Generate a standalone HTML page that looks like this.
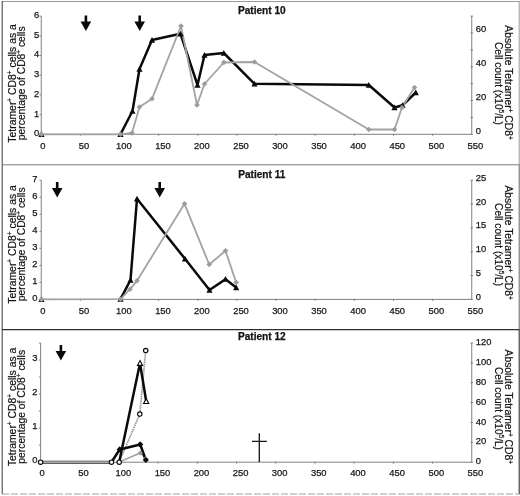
<!DOCTYPE html>
<html lang="en"><head><meta charset="utf-8"><title>Tetramer+ CD8+ cells – Patients 10, 11, 12</title>
<style>html,body{margin:0;padding:0;background:#fff}svg{display:block}text{font-family:'Liberation Sans', Arial, sans-serif;fill:#151515}.t{font-size:9.4px;stroke:#151515;stroke-width:.25px}.r{stroke:#151515;stroke-width:.2px}</style>
</head><body>
<svg width="520" height="496" viewBox="0 0 520 496">
<rect width="520" height="496" fill="#fff"/>
<g fill="none">
<path d="M2 1.5H519.5" stroke="#9a9a9a" stroke-width="1"/>
<path d="M2.2 1V494.3" stroke="#4a4a4a" stroke-width="1.1"/>
<path d="M519.2 1V164.8" stroke="#9a9a9a" stroke-width="1"/>
<path d="M519.2 164.8V329.6" stroke="#666" stroke-width="1"/>
<path d="M519.2 329.6V494.3" stroke="#333" stroke-width="1.1"/>
<path d="M2 164.8H519.5" stroke="#7c7c7c" stroke-width="1"/>
<path d="M2 329.7H519.5" stroke="#2e2e2e" stroke-width="1.3"/>
<path d="M2 494H519.5" stroke="#a4a4a4" stroke-width="1" stroke-dasharray="7 2"/>
</g>
<g>
<text x="261.8" y="14.399999999999999" font-size="10.1" font-weight="bold" text-anchor="middle" fill="#111" stroke="#111" stroke-width=".25">Patient 10</text>
<path d="M41.25 16.1V134.3H471.75V16.1" fill="none" stroke="#7a7a7a" stroke-width="0.95"/>
<text class="t" x="39.2" y="136.20" text-anchor="end">0</text>
<text class="t" x="39.2" y="116.50" text-anchor="end">1</text>
<text class="t" x="39.2" y="96.80" text-anchor="end">2</text>
<text class="t" x="39.2" y="77.10" text-anchor="end">3</text>
<text class="t" x="39.2" y="57.40" text-anchor="end">4</text>
<text class="t" x="39.2" y="37.70" text-anchor="end">5</text>
<text class="t" x="39.2" y="18.00" text-anchor="end">6</text>
<text class="t" x="475.8" y="133.50">0</text>
<text class="t" x="475.8" y="99.73">20</text>
<text class="t" x="475.8" y="65.96">40</text>
<text class="t" x="475.8" y="32.19">60</text>
<text class="t" x="42.75" y="148.50" text-anchor="middle">0</text>
<text class="t" x="83.99" y="148.50" text-anchor="middle">50</text>
<text class="t" x="123.82" y="148.50" text-anchor="middle">100</text>
<text class="t" x="162.96" y="148.50" text-anchor="middle">150</text>
<text class="t" x="201.90" y="148.50" text-anchor="middle">200</text>
<text class="t" x="241.03" y="148.50" text-anchor="middle">250</text>
<text class="t" x="279.97" y="148.50" text-anchor="middle">300</text>
<text class="t" x="319.00" y="148.50" text-anchor="middle">350</text>
<text class="t" x="358.14" y="148.50" text-anchor="middle">400</text>
<text class="t" x="397.28" y="148.50" text-anchor="middle">450</text>
<text class="t" x="436.41" y="148.50" text-anchor="middle">500</text>
<text class="t" x="475.45" y="148.50" text-anchor="middle">550</text>
<path d="M41.25 134.30h-1.8M41.25 114.60h-1.8M41.25 94.90h-1.8M41.25 75.20h-1.8M41.25 55.50h-1.8M41.25 35.80h-1.8M41.25 16.10h-1.8M470.45 134.30h2.6M470.45 117.41h2.6M470.45 100.53h2.6M470.45 83.64h2.6M470.45 66.76h2.6M470.45 49.87h2.6M470.45 32.99h2.6M470.45 16.10h2.6M80.39 133.80v2M119.52 133.80v2M158.66 133.80v2M197.80 133.80v2M236.93 133.80v2M276.07 133.80v2M315.20 133.80v2M354.34 133.80v2M393.48 133.80v2M432.61 133.80v2" fill="none" stroke="#7a7a7a" stroke-width="0.9"/>
<text transform="translate(15.8 83.4) rotate(-90)" class="r" font-size="10.4" text-anchor="middle">Tetramer<tspan dy="-3.6" font-size="6.5">+</tspan><tspan dy="3.6">&#8203;</tspan> CD8<tspan dy="-3.6" font-size="6.5">+</tspan><tspan dy="3.6">&#8203;</tspan> cells as a</text>
<text transform="translate(24.8 83.3) rotate(-90)" class="r" font-size="10.3" text-anchor="middle">percentage of CD8<tspan dy="-3.6" font-size="6.5">+</tspan><tspan dy="3.6">&#8203;</tspan> cells</text>
<text transform="translate(504.5 82.5) rotate(90)" class="r" font-size="10.3" text-anchor="middle">Absolute Tetramer<tspan dy="-3.6" font-size="6.5">+</tspan><tspan dy="3.6">&#8203;</tspan> CD8<tspan dy="-3.6" font-size="6.5">+</tspan><tspan dy="3.6">&#8203;</tspan></text>
<text transform="translate(495 83.5) rotate(90)" class="r" font-size="10.15" text-anchor="middle">Cell count (x10<tspan dy="-3.6" font-size="6.5">5</tspan><tspan dy="3.6">&#8203;</tspan>/L)</text>
<path d="M87.2 15.5v6h4l-5.3 9.5l-5.3 -9.5h4v-6z" fill="#0a0a0a"/>
<path d="M141.0 15.5v6h4l-5.3 9.5l-5.3 -9.5h4v-6z" fill="#0a0a0a"/>
</g>
<g>
<text x="261.8" y="178.39999999999998" font-size="10.1" font-weight="bold" text-anchor="middle" fill="#111" stroke="#111" stroke-width=".25">Patient 11</text>
<path d="M41.25 180.2V299.4H471.75V180.2" fill="none" stroke="#7a7a7a" stroke-width="0.95"/>
<text class="t" x="37.5" y="300.80" text-anchor="end">0</text>
<text class="t" x="37.5" y="283.77" text-anchor="end">1</text>
<text class="t" x="37.5" y="266.74" text-anchor="end">2</text>
<text class="t" x="37.5" y="249.71" text-anchor="end">3</text>
<text class="t" x="37.5" y="232.69" text-anchor="end">4</text>
<text class="t" x="37.5" y="215.66" text-anchor="end">5</text>
<text class="t" x="37.5" y="198.63" text-anchor="end">6</text>
<text class="t" x="37.5" y="181.60" text-anchor="end">7</text>
<text class="t" x="475.8" y="300.00">0</text>
<text class="t" x="475.8" y="276.16">5</text>
<text class="t" x="475.8" y="252.32">10</text>
<text class="t" x="475.8" y="228.48">15</text>
<text class="t" x="475.8" y="204.64">20</text>
<text class="t" x="475.8" y="180.80">25</text>
<text class="t" x="42.75" y="313.60" text-anchor="middle">0</text>
<text class="t" x="83.99" y="313.60" text-anchor="middle">50</text>
<text class="t" x="123.82" y="313.60" text-anchor="middle">100</text>
<text class="t" x="162.96" y="313.60" text-anchor="middle">150</text>
<text class="t" x="201.90" y="313.60" text-anchor="middle">200</text>
<text class="t" x="241.03" y="313.60" text-anchor="middle">250</text>
<text class="t" x="279.97" y="313.60" text-anchor="middle">300</text>
<text class="t" x="319.00" y="313.60" text-anchor="middle">350</text>
<text class="t" x="358.14" y="313.60" text-anchor="middle">400</text>
<text class="t" x="397.28" y="313.60" text-anchor="middle">450</text>
<text class="t" x="436.41" y="313.60" text-anchor="middle">500</text>
<text class="t" x="475.45" y="313.60" text-anchor="middle">550</text>
<path d="M41.25 299.40h-1.8M41.25 282.37h-1.8M41.25 265.34h-1.8M41.25 248.31h-1.8M41.25 231.29h-1.8M41.25 214.26h-1.8M41.25 197.23h-1.8M41.25 180.20h-1.8M470.45 299.40h2.6M470.45 275.56h2.6M470.45 251.72h2.6M470.45 227.88h2.6M470.45 204.04h2.6M470.45 180.20h2.6M80.39 298.90v2M119.52 298.90v2M158.66 298.90v2M197.80 298.90v2M236.93 298.90v2M276.07 298.90v2M315.20 298.90v2M354.34 298.90v2M393.48 298.90v2M432.61 298.90v2" fill="none" stroke="#7a7a7a" stroke-width="0.9"/>
<text transform="translate(15.8 244.4) rotate(-90)" class="r" font-size="10.4" text-anchor="middle">Tetramer<tspan dy="-3.6" font-size="6.5">+</tspan><tspan dy="3.6">&#8203;</tspan> CD8<tspan dy="-3.6" font-size="6.5">+</tspan><tspan dy="3.6">&#8203;</tspan> cells as a</text>
<text transform="translate(24.8 244.3) rotate(-90)" class="r" font-size="10.3" text-anchor="middle">percentage of CD8<tspan dy="-3.6" font-size="6.5">+</tspan><tspan dy="3.6">&#8203;</tspan> cells</text>
<text transform="translate(504.5 242.60000000000002) rotate(90)" class="r" font-size="10.3" text-anchor="middle">Absolute Tetramer<tspan dy="-3.6" font-size="6.5">+</tspan><tspan dy="3.6">&#8203;</tspan> CD8<tspan dy="-3.6" font-size="6.5">+</tspan><tspan dy="3.6">&#8203;</tspan></text>
<text transform="translate(495 244.6) rotate(90)" class="r" font-size="10.15" text-anchor="middle">Cell count (x10<tspan dy="-3.6" font-size="6.5">5</tspan><tspan dy="3.6">&#8203;</tspan>/L)</text>
<path d="M58.5 182v6h4l-5.3 9.5l-5.3 -9.5h4v-6z" fill="#0a0a0a"/>
<path d="M161.0 182v6h4l-5.3 9.5l-5.3 -9.5h4v-6z" fill="#0a0a0a"/>
</g>
<g>
<text x="261.8" y="340.4" font-size="10.1" font-weight="bold" text-anchor="middle" fill="#111" stroke="#111" stroke-width=".25">Patient 12</text>
<path d="M40.6 343.0V462.2H471.75V343.0" fill="none" stroke="#7a7a7a" stroke-width="0.95"/>
<text class="t" x="37.5" y="463.10" text-anchor="end">0</text>
<text class="t" x="37.5" y="429.04" text-anchor="end">1</text>
<text class="t" x="37.5" y="394.99" text-anchor="end">2</text>
<text class="t" x="37.5" y="360.93" text-anchor="end">3</text>
<text class="t" x="475.8" y="464.30">0</text>
<text class="t" x="475.8" y="444.43">20</text>
<text class="t" x="475.8" y="424.57">40</text>
<text class="t" x="475.8" y="404.70">60</text>
<text class="t" x="475.8" y="384.83">80</text>
<text class="t" x="475.8" y="364.97">100</text>
<text class="t" x="475.8" y="345.10">120</text>
<text class="t" x="42.10" y="476.40" text-anchor="middle">0</text>
<text class="t" x="83.40" y="476.40" text-anchor="middle">50</text>
<text class="t" x="123.29" y="476.40" text-anchor="middle">100</text>
<text class="t" x="162.49" y="476.40" text-anchor="middle">150</text>
<text class="t" x="201.48" y="476.40" text-anchor="middle">200</text>
<text class="t" x="240.68" y="476.40" text-anchor="middle">250</text>
<text class="t" x="279.67" y="476.40" text-anchor="middle">300</text>
<text class="t" x="318.77" y="476.40" text-anchor="middle">350</text>
<text class="t" x="357.96" y="476.40" text-anchor="middle">400</text>
<text class="t" x="397.16" y="476.40" text-anchor="middle">450</text>
<text class="t" x="436.35" y="476.40" text-anchor="middle">500</text>
<text class="t" x="475.45" y="476.40" text-anchor="middle">550</text>
<path d="M40.6 462.20h-1.8M40.6 445.17h-1.8M40.6 428.14h-1.8M40.6 411.11h-1.8M40.6 394.09h-1.8M40.6 377.06h-1.8M40.6 360.03h-1.8M40.6 343.00h-1.8M470.45 462.20h2.6M470.45 442.33h2.6M470.45 422.47h2.6M470.45 402.60h2.6M470.45 382.73h2.6M470.45 362.87h2.6M470.45 343.00h2.6M79.80 461.70v2M118.99 461.70v2M158.19 461.70v2M197.38 461.70v2M236.58 461.70v2M275.77 461.70v2M314.97 461.70v2M354.16 461.70v2M393.36 461.70v2M432.55 461.70v2" fill="none" stroke="#7a7a7a" stroke-width="0.9"/>
<text transform="translate(15.8 406.9) rotate(-90)" class="r" font-size="10.4" text-anchor="middle">Tetramer<tspan dy="-3.6" font-size="6.5">+</tspan><tspan dy="3.6">&#8203;</tspan> CD8<tspan dy="-3.6" font-size="6.5">+</tspan><tspan dy="3.6">&#8203;</tspan> cells as a</text>
<text transform="translate(24.8 406.8) rotate(-90)" class="r" font-size="10.3" text-anchor="middle">percentage of CD8<tspan dy="-3.6" font-size="6.5">+</tspan><tspan dy="3.6">&#8203;</tspan> cells</text>
<text transform="translate(504.5 406.8) rotate(90)" class="r" font-size="10.3" text-anchor="middle">Absolute Tetramer<tspan dy="-3.6" font-size="6.5">+</tspan><tspan dy="3.6">&#8203;</tspan> CD8<tspan dy="-3.6" font-size="6.5">+</tspan><tspan dy="3.6">&#8203;</tspan></text>
<text transform="translate(495 408.5) rotate(90)" class="r" font-size="10.15" text-anchor="middle">Cell count (x10<tspan dy="-3.6" font-size="6.5">5</tspan><tspan dy="3.6">&#8203;</tspan>/L)</text>
<path d="M62.2 345v6h4l-5.3 9.5l-5.3 -9.5h4v-6z" fill="#0a0a0a"/>
</g>
<g>
<polyline points="120.50,134.30 132.50,111.00 139.50,69.00 152.00,40.00 180.50,33.80 197.50,85.00 204.50,55.00 223.80,53.00 254.50,83.80 368.80,85.00 394.50,107.50 402.50,105.30 415.80,92.50" fill="none" stroke="#0a0a0a" stroke-width="2.5" stroke-linejoin="round" />
<polyline points="41.50,134.30 120.50,134.30 132.00,133.00 139.50,107.00 152.00,98.80 181.00,26.00 197.00,105.00 204.50,84.00 223.80,62.50 254.50,62.00 368.80,129.50 394.50,129.50 402.00,107.50 414.50,87.50" fill="none" stroke="#a3a3a3" stroke-width="1.8" stroke-linejoin="round" />
<path d="M41.50 131.20L44.60 136.94H38.40Z" fill="#0a0a0a"/>
<path d="M120.50 131.20L123.60 136.94H117.40Z" fill="#0a0a0a"/>
<path d="M132.50 107.90L135.60 113.64H129.40Z" fill="#0a0a0a"/>
<path d="M139.50 65.90L142.60 71.64H136.40Z" fill="#0a0a0a"/>
<path d="M152.00 36.90L155.10 42.63H148.90Z" fill="#0a0a0a"/>
<path d="M180.50 30.70L183.60 36.43H177.40Z" fill="#0a0a0a"/>
<path d="M197.50 81.90L200.60 87.64H194.40Z" fill="#0a0a0a"/>
<path d="M204.50 51.90L207.60 57.63H201.40Z" fill="#0a0a0a"/>
<path d="M223.80 49.90L226.90 55.63H220.70Z" fill="#0a0a0a"/>
<path d="M254.50 80.70L257.60 86.44H251.40Z" fill="#0a0a0a"/>
<path d="M368.80 81.90L371.90 87.64H365.70Z" fill="#0a0a0a"/>
<path d="M394.50 104.40L397.60 110.14H391.40Z" fill="#0a0a0a"/>
<path d="M402.50 102.20L405.60 107.94H399.40Z" fill="#0a0a0a"/>
<path d="M415.80 89.40L418.90 95.14H412.70Z" fill="#0a0a0a"/>
<path d="M41.50 131.50l2.80 2.80l-2.80 2.80l-2.80 -2.80z" fill="#9c9c9c"/>
<path d="M120.50 131.50l2.80 2.80l-2.80 2.80l-2.80 -2.80z" fill="#9c9c9c"/>
<path d="M132.00 130.20l2.80 2.80l-2.80 2.80l-2.80 -2.80z" fill="#9c9c9c"/>
<path d="M139.50 104.20l2.80 2.80l-2.80 2.80l-2.80 -2.80z" fill="#9c9c9c"/>
<path d="M152.00 96.00l2.80 2.80l-2.80 2.80l-2.80 -2.80z" fill="#9c9c9c"/>
<path d="M181.00 23.20l2.80 2.80l-2.80 2.80l-2.80 -2.80z" fill="#9c9c9c"/>
<path d="M197.00 102.20l2.80 2.80l-2.80 2.80l-2.80 -2.80z" fill="#9c9c9c"/>
<path d="M204.50 81.20l2.80 2.80l-2.80 2.80l-2.80 -2.80z" fill="#9c9c9c"/>
<path d="M223.80 59.70l2.80 2.80l-2.80 2.80l-2.80 -2.80z" fill="#9c9c9c"/>
<path d="M254.50 59.20l2.80 2.80l-2.80 2.80l-2.80 -2.80z" fill="#9c9c9c"/>
<path d="M368.80 126.70l2.80 2.80l-2.80 2.80l-2.80 -2.80z" fill="#9c9c9c"/>
<path d="M394.50 126.70l2.80 2.80l-2.80 2.80l-2.80 -2.80z" fill="#9c9c9c"/>
<path d="M402.00 104.70l2.80 2.80l-2.80 2.80l-2.80 -2.80z" fill="#9c9c9c"/>
<path d="M414.50 84.70l2.80 2.80l-2.80 2.80l-2.80 -2.80z" fill="#9c9c9c"/>
</g>
<g>
<polyline points="120.50,299.20 130.50,280.00 137.00,198.80 185.00,258.80 209.50,290.00 225.50,279.20 236.20,287.50" fill="none" stroke="#0a0a0a" stroke-width="2.5" stroke-linejoin="round" />
<polyline points="41.50,299.40 120.50,299.20 130.00,289.20 137.00,280.80 184.50,203.80 209.20,264.50 225.50,250.80 236.20,282.50" fill="none" stroke="#a3a3a3" stroke-width="1.8" stroke-linejoin="round" />
<path d="M41.50 296.30L44.60 302.03H38.40Z" fill="#0a0a0a"/>
<path d="M120.50 296.10L123.60 301.83H117.40Z" fill="#0a0a0a"/>
<path d="M130.50 276.90L133.60 282.63H127.40Z" fill="#0a0a0a"/>
<path d="M137.00 195.70L140.10 201.44H133.90Z" fill="#0a0a0a"/>
<path d="M185.00 255.70L188.10 261.44H181.90Z" fill="#0a0a0a"/>
<path d="M209.50 286.90L212.60 292.63H206.40Z" fill="#0a0a0a"/>
<path d="M225.50 276.10L228.60 281.83H222.40Z" fill="#0a0a0a"/>
<path d="M236.20 284.40L239.30 290.13H233.10Z" fill="#0a0a0a"/>
<path d="M41.50 296.60l2.80 2.80l-2.80 2.80l-2.80 -2.80z" fill="#9c9c9c"/>
<path d="M120.50 296.40l2.80 2.80l-2.80 2.80l-2.80 -2.80z" fill="#9c9c9c"/>
<path d="M130.00 286.40l2.80 2.80l-2.80 2.80l-2.80 -2.80z" fill="#9c9c9c"/>
<path d="M137.00 278.00l2.80 2.80l-2.80 2.80l-2.80 -2.80z" fill="#9c9c9c"/>
<path d="M184.50 201.00l2.80 2.80l-2.80 2.80l-2.80 -2.80z" fill="#9c9c9c"/>
<path d="M209.20 261.70l2.80 2.80l-2.80 2.80l-2.80 -2.80z" fill="#9c9c9c"/>
<path d="M225.50 248.00l2.80 2.80l-2.80 2.80l-2.80 -2.80z" fill="#9c9c9c"/>
<path d="M236.20 279.70l2.80 2.80l-2.80 2.80l-2.80 -2.80z" fill="#9c9c9c"/>
</g>
<g>
<path d="M40.6 462.2H111.5" fill="none" stroke="#2a2a2a" stroke-width="3"/>
<path d="M40.6 462.2H111.5" fill="none" stroke="#a8a8a8" stroke-width="1.7"/>
<polyline points="119.20,462.00 140.20,453.00 145.80,458.50" fill="none" stroke="#a3a3a3" stroke-width="1.6" stroke-linejoin="round" />
<polyline points="119.20,462.00 139.80,414.10 145.70,350.50" fill="none" stroke="#9a9a9a" stroke-width="1.7" stroke-linejoin="round" stroke-dasharray="1.6 0.7"/>
<polyline points="119.20,462.00 140.00,363.20 146.20,401.30" fill="none" stroke="#0a0a0a" stroke-width="2.5" stroke-linejoin="round" />
<polyline points="111.50,462.20 119.70,449.40 140.20,444.40 145.80,460.00" fill="none" stroke="#0a0a0a" stroke-width="2.6" stroke-linejoin="round" />
<path d="M140.20 450.40l2.60 2.60l-2.60 2.60l-2.60 -2.60z" fill="#9a9a9a"/>
<path d="M145.80 455.90l2.60 2.60l-2.60 2.60l-2.60 -2.60z" fill="#9a9a9a"/>
<path d="M119.70 446.30l3.10 3.10l-3.10 3.10l-3.10 -3.10z" fill="#0a0a0a"/>
<path d="M140.20 441.30l3.10 3.10l-3.10 3.10l-3.10 -3.10z" fill="#0a0a0a"/>
<path d="M145.80 456.90l3.10 3.10l-3.10 3.10l-3.10 -3.10z" fill="#0a0a0a"/>
<path d="M140.00 360.60L142.60 365.41H137.40Z" fill="#fff" stroke="#0a0a0a" stroke-width="1.1"/>
<path d="M146.20 398.70L148.80 403.51H143.60Z" fill="#fff" stroke="#0a0a0a" stroke-width="1.1"/>
<circle cx="40.60" cy="462.20" r="2.2" fill="#fff" stroke="#0a0a0a" stroke-width="1.15"/>
<circle cx="111.50" cy="462.20" r="2.2" fill="#fff" stroke="#0a0a0a" stroke-width="1.15"/>
<circle cx="119.20" cy="462.20" r="2.2" fill="#fff" stroke="#0a0a0a" stroke-width="1.15"/>
<circle cx="139.80" cy="414.10" r="2.2" fill="#fff" stroke="#0a0a0a" stroke-width="1.15"/>
<circle cx="145.70" cy="350.50" r="2.2" fill="#fff" stroke="#0a0a0a" stroke-width="1.15"/>
<path d="M259.3 433.3V462M252 441.3H266.8" fill="none" stroke="#111" stroke-width="1.3"/>
</g>
</svg>
</body></html>
